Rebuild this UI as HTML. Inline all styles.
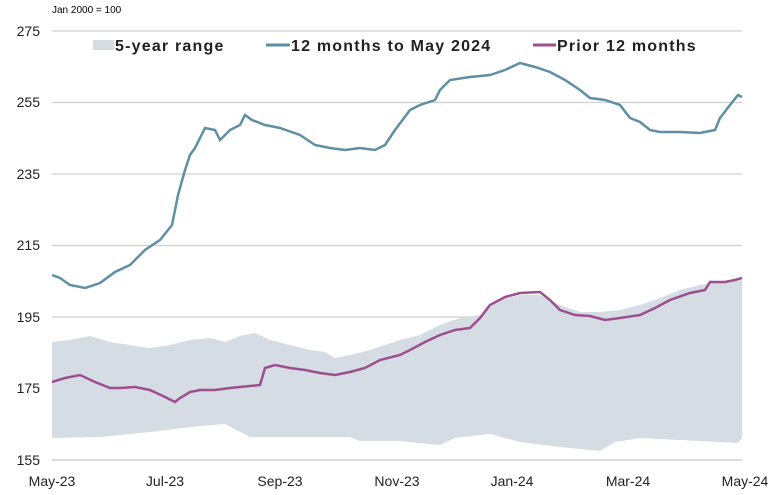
<!DOCTYPE html><html><head><style>body{margin:0;background:#fff}svg{display:block;font-family:"Liberation Sans",sans-serif}</style></head><body>
<svg width="776" height="495" viewBox="0 0 776 495">
<text x="52" y="13" font-size="10" fill="#000">Jan 2000 = 100</text>
<g stroke="#d0d0d0" stroke-width="1.3">
<line x1="52" x2="742" y1="31" y2="31"/><line x1="52" x2="742" y1="102.5" y2="102.5"/><line x1="52" x2="742" y1="174" y2="174"/><line x1="52" x2="742" y1="245.5" y2="245.5"/><line x1="52" x2="742" y1="317" y2="317"/><line x1="52" x2="742" y1="388.5" y2="388.5"/>
</g>
<polygon fill="#d5dce4" points="52,342 70,340 90,336 110,342 130,345 150,348 170,345 190,340 210,338 225,342 240,336 255,333 270,340 290,345 310,350 325,352 335,358 350,355 370,350 385,345 400,340 420,335 440,325 460,318 480,315 500,300 520,295 540,295 560,305 580,312 600,312 620,310 640,305 660,298 680,290 700,285 720,282 742,280 742,438 738,443 700,441 680,440 640,438 615,442 600,451 560,447 520,442 490,434 455,438 440,445 400,441 360,441 350,437 300,437 250,437 225,424 200,426 150,432 100,437 52,438"/>
<line x1="52" x2="742" y1="460" y2="460" stroke="#c8c8c8" stroke-width="1.3"/>
<polyline fill="none" stroke="#9c4f8f" stroke-width="2.5" points="52,382 65,378 80,375 95,382 110,388 120,388 135,387 150,390 165,397 175,402 180,398 190,392 200,390 215,390 230,388 250,386 260,385 265,368 275,365 290,368 305,370 320,373 335,375 350,372 365,368 380,360 400,355 410,350 425,342 440,335 455,330 470,328 480,318 490,305 505,297 520,293 540,292 550,300 560,310 575,315 590,316 605,320 620,318 640,315 655,308 670,300 690,293 705,290 710,282 725,282 735,280 742,278"/>
<polyline fill="none" stroke="#5f8fa3" stroke-width="2.5" points="52,275 60,278 70,285 85,288 100,283 115,272 130,265 145,250 160,240 172,225 178,195 185,170 190,155 195,148 205,128 215,130 220,140 230,130 240,125 245,115 252,120 265,125 280,128 300,135 315,145 330,148 345,150 360,148 375,150 385,145 395,130 410,110 420,105 435,100 440,90 450,80 470,77 490,75 505,70 520,63 535,67 550,72 565,80 580,90 590,98 605,100 620,105 630,118 640,122 650,130 660,132 680,132 700,133 715,130 720,118 730,105 738,95 742,97"/>
<g font-size="14" fill="#222" text-anchor="end">
<text x="40" y="36">275</text><text x="40" y="107">255</text><text x="40" y="179">235</text><text x="40" y="250">215</text><text x="40" y="322">195</text><text x="40" y="393">175</text><text x="40" y="465">155</text>
</g>
<g font-size="14" fill="#222" text-anchor="middle">
<text x="52" y="486">May-23</text><text x="165" y="486">Jul-23</text><text x="280" y="486">Sep-23</text><text x="397" y="486">Nov-23</text><text x="512" y="486">Jan-24</text><text x="628" y="486">Mar-24</text><text x="745" y="486">May-24</text>
</g>
<g font-size="16" font-weight="bold" fill="#222" letter-spacing="1.2">
<rect x="93" y="40" width="21" height="10" fill="#d5dce4"/><text x="115" y="51">5-year range</text>
<line x1="266" x2="290" y1="45" y2="45" stroke="#5f8fa3" stroke-width="3"/><text x="291" y="51">12 months to May 2024</text>
<line x1="533" x2="556" y1="45" y2="45" stroke="#9c4f8f" stroke-width="3"/><text x="557" y="51">Prior 12 months</text>
</g>
</svg></body></html>
